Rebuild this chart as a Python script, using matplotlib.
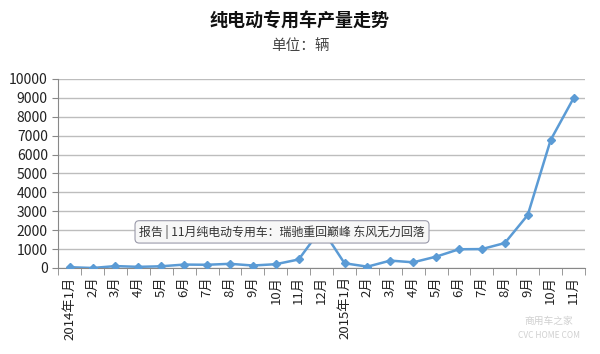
import matplotlib
matplotlib.use("Agg")
import matplotlib.pyplot as plt
import numpy as np

plt.rcParams['font.family'] = ['Noto Sans CJK SC', 'DejaVu Sans']

months = ["2014年1月", "2月", "3月", "4月", "5月", "6月", "7月", "8月", "9月", "10月", "11月", "12月",
          "2015年1月", "2月", "3月", "4月", "5月", "6月", "7月", "8月", "9月", "10月", "11月"]
output = [40, 0, 100, 60, 90, 180, 170, 220, 130, 200, 450, 2100,
          250, 70, 390, 300, 600, 990, 1000, 1320, 2800, 6770, 8980]

title = "纯电动专用车产量走势"
subtitle = "单位：辆"
tooltip = "报告 | 11月纯电动专用车：瑞驰重回巅峰 东风无力回落"

fig = plt.figure(figsize=(6, 3.54), dpi=100)
ax = fig.add_axes([0.097, 0.243, 0.878, 0.534])

x = np.arange(len(months))
ax.plot(x, output, color="#5B9BD5", lw=1.8, marker="D", ms=4.5, zorder=3)

ax.set_xlim(-0.5, len(months) - 0.5)
ax.set_ylim(0, 10000)
ax.set_yticks(np.arange(0, 10001, 1000))
ax.grid(axis="y", color="#BDBDBD", lw=1)
ax.set_axisbelow(True)

ax.set_xticks(x)
ax.set_xticklabels(months, rotation=90, fontsize=9.5, color="#222222")
ax.set_xticks(np.arange(-0.5, len(months), 1), minor=True)
ax.tick_params(axis="x", which="major", length=0, pad=6)
ax.tick_params(axis="x", which="minor", length=5, color="#888888")
ax.tick_params(axis="y", length=4, color="#888888", labelsize=10, labelcolor="#222222")

for s in ["top", "right"]:
    ax.spines[s].set_visible(False)
ax.spines["left"].set_color("#888888")
ax.spines["bottom"].set_color("#888888")

fig.text(0.5, 0.925, title, ha="center", fontsize=13, fontweight="bold", color="#111111")
fig.text(0.5, 0.86, subtitle, ha="center", fontsize=10.5, color="#444444")

fig.text(0.232, 0.345, tooltip, fontsize=8.6, color="#333333", va="center",
         bbox=dict(boxstyle="round,pad=0.35", fc="#F7F7F7", ec="#9A9AAA", lw=0.8), zorder=5)

fig.text(0.915, 0.085, "商用车之家", fontsize=7, color="#D0D0D0", ha="center")
fig.text(0.915, 0.045, "CVC HOME COM", fontsize=6, color="#D0D0D0", ha="center")

fig.savefig("out.png", dpi=100)
